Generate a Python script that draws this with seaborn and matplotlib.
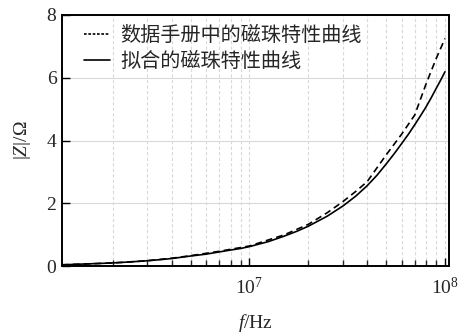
import numpy as np
import pandas as pd
import matplotlib
matplotlib.use("Agg")
import matplotlib.pyplot as plt
import seaborn as sns

# Data
fit_f = [1.1e6, 1.5e6, 2e6, 2.5e6, 3e6, 3.5e6, 4e6, 5e6, 6e6, 7e6, 8e6, 9e6,
         1e7, 1.25e7, 1.5e7, 1.75e7, 2e7, 2.5e7, 3e7, 3.5e7, 4e7, 4.5e7,
         5e7, 5.5e7, 6e7, 6.5e7, 7e7, 7.5e7, 8e7, 8.5e7, 9e7, 9.5e7, 1e8]
fit_z = [0.04, 0.07, 0.10, 0.135, 0.17, 0.205, 0.24, 0.32, 0.38, 0.45, 0.51,
         0.56, 0.62, 0.78, 0.95, 1.11, 1.27, 1.59, 1.91, 2.23, 2.56, 2.90,
         3.25, 3.58, 3.90, 4.20, 4.50, 4.79, 5.07, 5.36, 5.65, 5.92, 6.19]

ds_f = [1.1e6, 1.5e6, 2e6, 3e6, 4e6, 5e6, 7e6, 1e7, 1.5e7, 2e7, 2.5e7, 3e7,
        3.5e7, 4e7, 5e7, 6e7, 7e7, 8e7, 9e7, 1e8]
ds_z = [0.04, 0.07, 0.10, 0.17, 0.25, 0.33, 0.47, 0.64, 0.99, 1.33, 1.70,
        2.05, 2.38, 2.69, 3.54, 4.20, 4.81, 5.80, 6.60, 7.25]

label_ds = "数据手册中的磁珠特性曲线"
label_fit = "拟合的磁珠特性曲线"
x_label = r"$\mathit{f}$/Hz"
y_label = r"$|\mathit{Z}|$/Ω"
y_ticks = [0, 2, 4, 6, 8]

sns.set_style("ticks")
plt.rcParams["font.family"] = ["Liberation Serif", "Noto Sans CJK SC", "DejaVu Sans"]
plt.rcParams["mathtext.fontset"] = "custom"
plt.rcParams["mathtext.rm"] = "Liberation Serif"
plt.rcParams["mathtext.it"] = "Liberation Serif:italic"
plt.rcParams["axes.unicode_minus"] = False

df_ds = pd.DataFrame({"f": ds_f, "z": ds_z})
df_fit = pd.DataFrame({"f": fit_f, "z": fit_z})

fig = plt.figure(figsize=(4.63, 3.33), dpi=100)
ax = fig.add_axes([0.134, 0.201, 0.836, 0.754])

sns.lineplot(data=df_ds, x="f", y="z", ax=ax, color="black", lw=1.2,
             label=label_ds)
sns.lineplot(data=df_fit, x="f", y="z", ax=ax, color="black", lw=1.2,
             label=label_fit)
ax.lines[0].set_dashes([4, 2.5])

ax.set_xscale("log")
ax.set_xlim(1.1e6, 1.05e8)
ax.set_ylim(0, 8)
ax.set_yticks(y_ticks)

ax.xaxis.grid(True, which="both", color="#d9d9d9", ls=(0, (3, 2)), lw=0.8)
ax.yaxis.grid(True, which="major", color="#d9d9d9", ls="-", lw=0.8)
ax.set_axisbelow(True)

ax.tick_params(axis="both", which="major", direction="in", length=6,
               width=1.0, labelsize=14, color="black")
ax.tick_params(axis="x", which="minor", direction="in", length=4, width=1.0)
ax.tick_params(axis="x", pad=8)
ax.tick_params(axis="y", pad=4)
for s in ax.spines.values():
    s.set_linewidth(1.4)
    s.set_color("black")

ax.set_xlabel(x_label, fontsize=14, labelpad=10)
ax.set_ylabel(y_label, fontsize=14, labelpad=10)

leg = ax.legend(loc="upper left", frameon=False, fontsize=14.5,
                handlelength=1.3, handletextpad=0.5, borderaxespad=0.1,
                labelspacing=0.25, bbox_to_anchor=(0.03, 1.0))
leg.get_lines()[0].set_dashes([1.6, 1.0])
for t in leg.get_texts():
    t.set_family(["Noto Sans CJK SC", "Liberation Serif"])

fig.savefig("out.png", dpi=100)
